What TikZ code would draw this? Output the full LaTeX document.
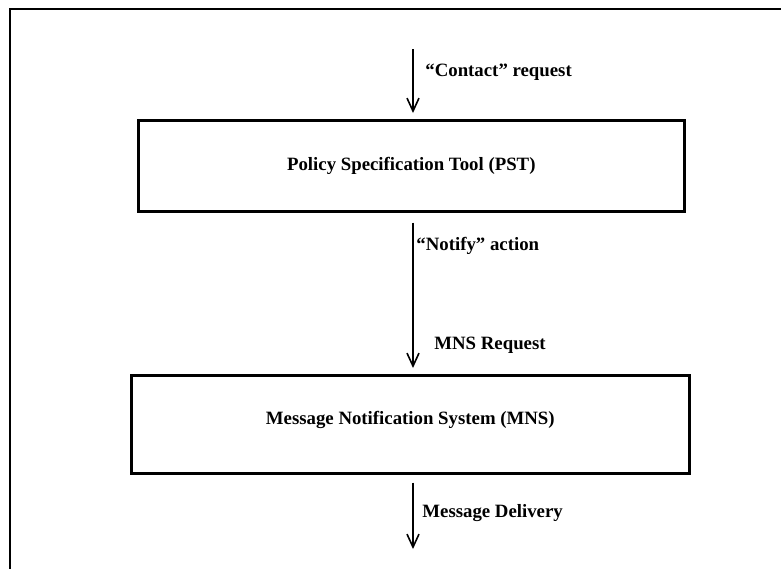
\documentclass[tikz,border=0pt]{standalone}
\usepackage{fontspec}
\setmainfont{Liberation Serif}
\usetikzlibrary{arrows.meta}

\tikzset{
  block/.style={draw, line width=1.3pt, inner sep=0pt, anchor=north west,
    font=\fontsize{9.4}{11}\selectfont\bfseries},
  flow/.style={-{Straight Barb[length=6.5pt,width=6pt]}, line width=0.8pt},
  tag/.style={anchor=west, inner sep=0pt, font=\fontsize{9.4}{11}\selectfont\bfseries}
}

\begin{document}
\begin{tikzpicture}[x=0.5pt, y=-0.5pt]
  \useasboundingbox (0,0) rectangle (781,569);

  % Frame
  % -----
  \coordinate (tl) at (10,9);
  \draw[line width=1.3pt] (781,9) -- (tl) -- (10,569);

  % Blocks
  % ------
  \node[block, minimum width=546*0.5pt, minimum height=91*0.5pt] (pst) at (137,119)
    {Policy Specification Tool (PST)};
  \node[block, minimum width=558*0.5pt, minimum height=98*0.5pt, text depth=6pt] (mns) at (130,374)
    {Message Notification System (MNS)};

  % Flows
  % -----
  \coordinate (in) at (413,49);
  \coordinate (out) at (413,549);
  \draw[flow, shorten >=3pt] (in) -- (pst.north -| in);
  \draw[flow, shorten <=5pt, shorten >=3pt] (pst.south -| in) -- (mns.north -| in);
  \draw[flow, shorten <=4pt] (mns.south -| in) -- (out);

  % Labels
  % ------
  \node[tag] (contact) at (425,72) {“Contact” request};
  \node[tag] (notify) at (416,246) {“Notify” action};
  \node[tag] (mnsreq) at (434,345) {MNS Request};
  \node[tag] (deliv) at (422,513) {Message Delivery};
\end{tikzpicture}
\end{document}
